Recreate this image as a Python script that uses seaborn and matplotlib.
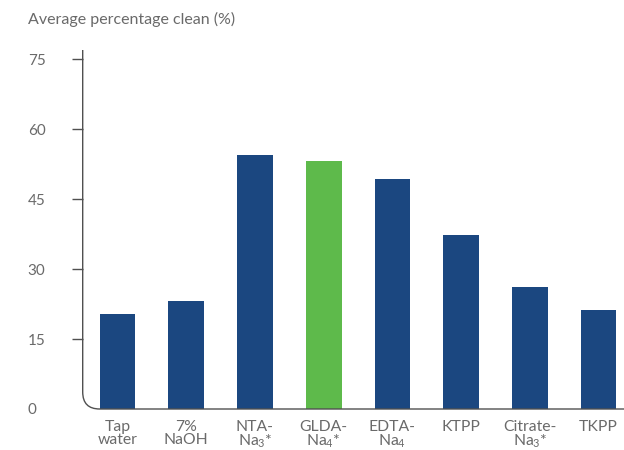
import matplotlib
matplotlib.use("Agg")
import matplotlib.pyplot as plt
from matplotlib.path import Path
from matplotlib.patches import PathPatch
import seaborn as sns
import pandas as pd

categories = ["Tap\nwater", "7%\nNaOH", "NTA-\nNa$_3$*", "GLDA-\nNa$_4$*",
              "EDTA-\nNa$_4$", "KTPP", "Citrate-\nNa$_3$*", "TKPP"]
values = [20.4, 23.1, 54.4, 53.1, 49.3, 37.3, 26.1, 21.2]
bar_colors = ["#1B4780", "#1B4780", "#1B4780", "#5EBA4B",
              "#1B4780", "#1B4780", "#1B4780", "#1B4780"]
yticks = [0, 15, 30, 45, 60, 75]
title = "Average percentage clean (%)"

sns.set_theme(style="white")
plt.rcParams["font.family"] = ["Lato", "DejaVu Sans"]
plt.rcParams["mathtext.fontset"] = "custom"
plt.rcParams["mathtext.rm"] = "Lato"
plt.rcParams["mathtext.it"] = "Lato:italic"
plt.rcParams["mathtext.bf"] = "Lato:bold"

text_color = "#6a6a6a"
line_color = "#505050"

df = pd.DataFrame({"cat": categories, "val": values})

fig = plt.figure(figsize=(6.24, 4.5), dpi=100)
ax = fig.add_axes([82.7 / 624, 41 / 450, 1 - 82.7 / 624, 359 / 450])

sns.barplot(data=df, x="cat", y="val", hue="cat", palette=bar_colors,
            legend=False, width=0.52, linewidth=0, ax=ax, saturation=1)

ax.set_ylim(0, 77)
ax.set_xlim(-0.506, 7.37)
ax.set_xlabel("")
ax.set_ylabel("")
ax.set_yticks(yticks)
ax.set_yticklabels([str(t) for t in yticks])

for s in ax.spines.values():
    s.set_visible(False)

ax.tick_params(axis="y", left=True, length=7.9, width=1.0, color=line_color,
               labelcolor=text_color, labelsize=11, pad=31.7)
for lab in ax.get_yticklabels():
    lab.set_horizontalalignment("left")
ax.yaxis.get_major_ticks()[0].tick1line.set_visible(False)

ax.tick_params(axis="x", bottom=False, labelcolor=text_color, labelsize=11.3, pad=2)
for lab in ax.get_xticklabels():
    lab.set_linespacing(0.92)
    lab.set_verticalalignment("top")

# L-shaped axis line with rounded corner
fig.canvas.draw()
bbox = ax.get_window_extent()
r = 17
rx = r / bbox.width
ry = r / bbox.height
verts = [(0, 1), (0, ry), (0, 0), (rx, 0), (1, 0)]
codes = [Path.MOVETO, Path.LINETO, Path.CURVE3, Path.CURVE3, Path.LINETO]
patch = PathPatch(Path(verts, codes), transform=ax.transAxes, fill=False,
                  edgecolor=line_color, linewidth=1.0, clip_on=False, zorder=5)
ax.add_patch(patch)

fig.text(28 / 624, 1 - 19 / 450, title, ha="left", va="center",
         color=text_color, fontsize=11.5)

fig.savefig("out.png", dpi=100)
